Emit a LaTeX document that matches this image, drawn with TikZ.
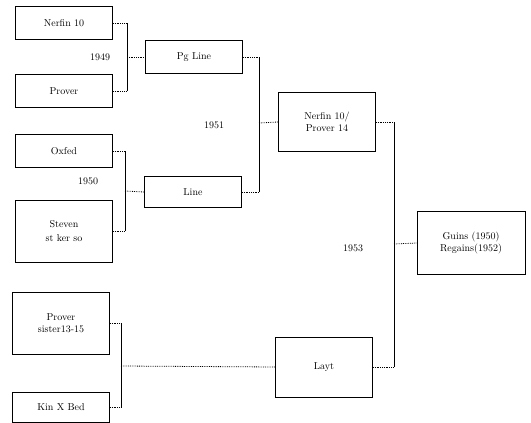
\documentclass[tikz,border=0pt]{standalone}
\usepackage{tikz}
\usetikzlibrary{positioning}

\begin{document}
\begin{tikzpicture}[x=1pt, y=-1pt,
    box/.style={rectangle, draw, line width=0.8pt, align=center, font=\normalsize, minimum width=97pt, minimum height=33pt},
    tall/.style={box, minimum height=62pt},
    link/.style={line width=0.8pt, densely dotted},
    bar/.style={line width=0.9pt}]
\useasboundingbox (0,0) rectangle (531,423);

% First round (left column)
\node[box] (nerfin) at (64,23) {Nerfin 10};
\node[box] (prover) at (64,91) {Prover};
\node[box] (oxfed) at (64,151) {Oxfed};
\node[tall] (steven) at (64,231) {Steven\\[2pt]st ker so};
\node[tall] (sister) at (61,323) {Prover\\sister13-15};
\node[box, minimum height=30pt] (kinx) at (61,407) {Kin X Bed};

% Second round
\node[box] (pgline) at (194,57) {Pg Line};
\node[box, minimum height=31pt] (line) at (193,192) {Line};
\node[box, minimum height=60pt] (layt) at (324,367) {Layt};

% Third round
\node[box, minimum height=59pt] (nerpro) at (327,122) {Nerfin 10/\\Prover 14};

% Final
\node[box, minimum width=108pt, minimum height=63pt] (guins) at (471,243) {Guins (1950)\\Regains(1952)};

% Years
\node (y1949) at (100,57) {1949};
\node (y1950) at (88,181) {1950};
\node (y1951) at (214,125) {1951};
\node (y1953) at (353,248) {1953};

% Join points of the brackets
\coordinate (j1) at (127,57);
\coordinate (j2) at (259,123);
\coordinate (j3) at (125,191);
\coordinate (j4) at (121,366);
\coordinate (j5) at (394,244);

% Brackets
\draw[link] (nerfin.east) -- (nerfin.east -| j1);
\draw[link] (prover.east) -- (prover.east -| j1);
\draw[bar] (nerfin.east -| j1) -- (prover.east -| j1);
\draw[link] (j1) -- (pgline.west);

\draw[link] (oxfed.east) -- (oxfed.east -| j3);
\draw[link] (steven.east) -- (steven.east -| j3);
\draw[bar] (oxfed.east -| j3) -- (steven.east -| j3);
\draw[link] (j3) -- (line.west);

\draw[link] (pgline.east) -- (pgline.east -| j2);
\draw[link] (line.east) -- (line.east -| j2);
\draw[bar] (pgline.east -| j2) -- (line.east -| j2);
\draw[link] (j2) -- (nerpro.west);

\draw[link] (sister.east) -- (sister.east -| j4);
\draw[link] (kinx.east) -- (kinx.east -| j4);
\draw[bar] (sister.east -| j4) -- (kinx.east -| j4);
\draw[link] (j4) -- (layt.west);

\draw[link] (nerpro.east) -- (nerpro.east -| j5);
\draw[link] (layt.east) -- (layt.east -| j5);
\draw[bar] (nerpro.east -| j5) -- (layt.east -| j5);
\draw[link] (j5) -- (guins.west);

\end{tikzpicture}
\end{document}
